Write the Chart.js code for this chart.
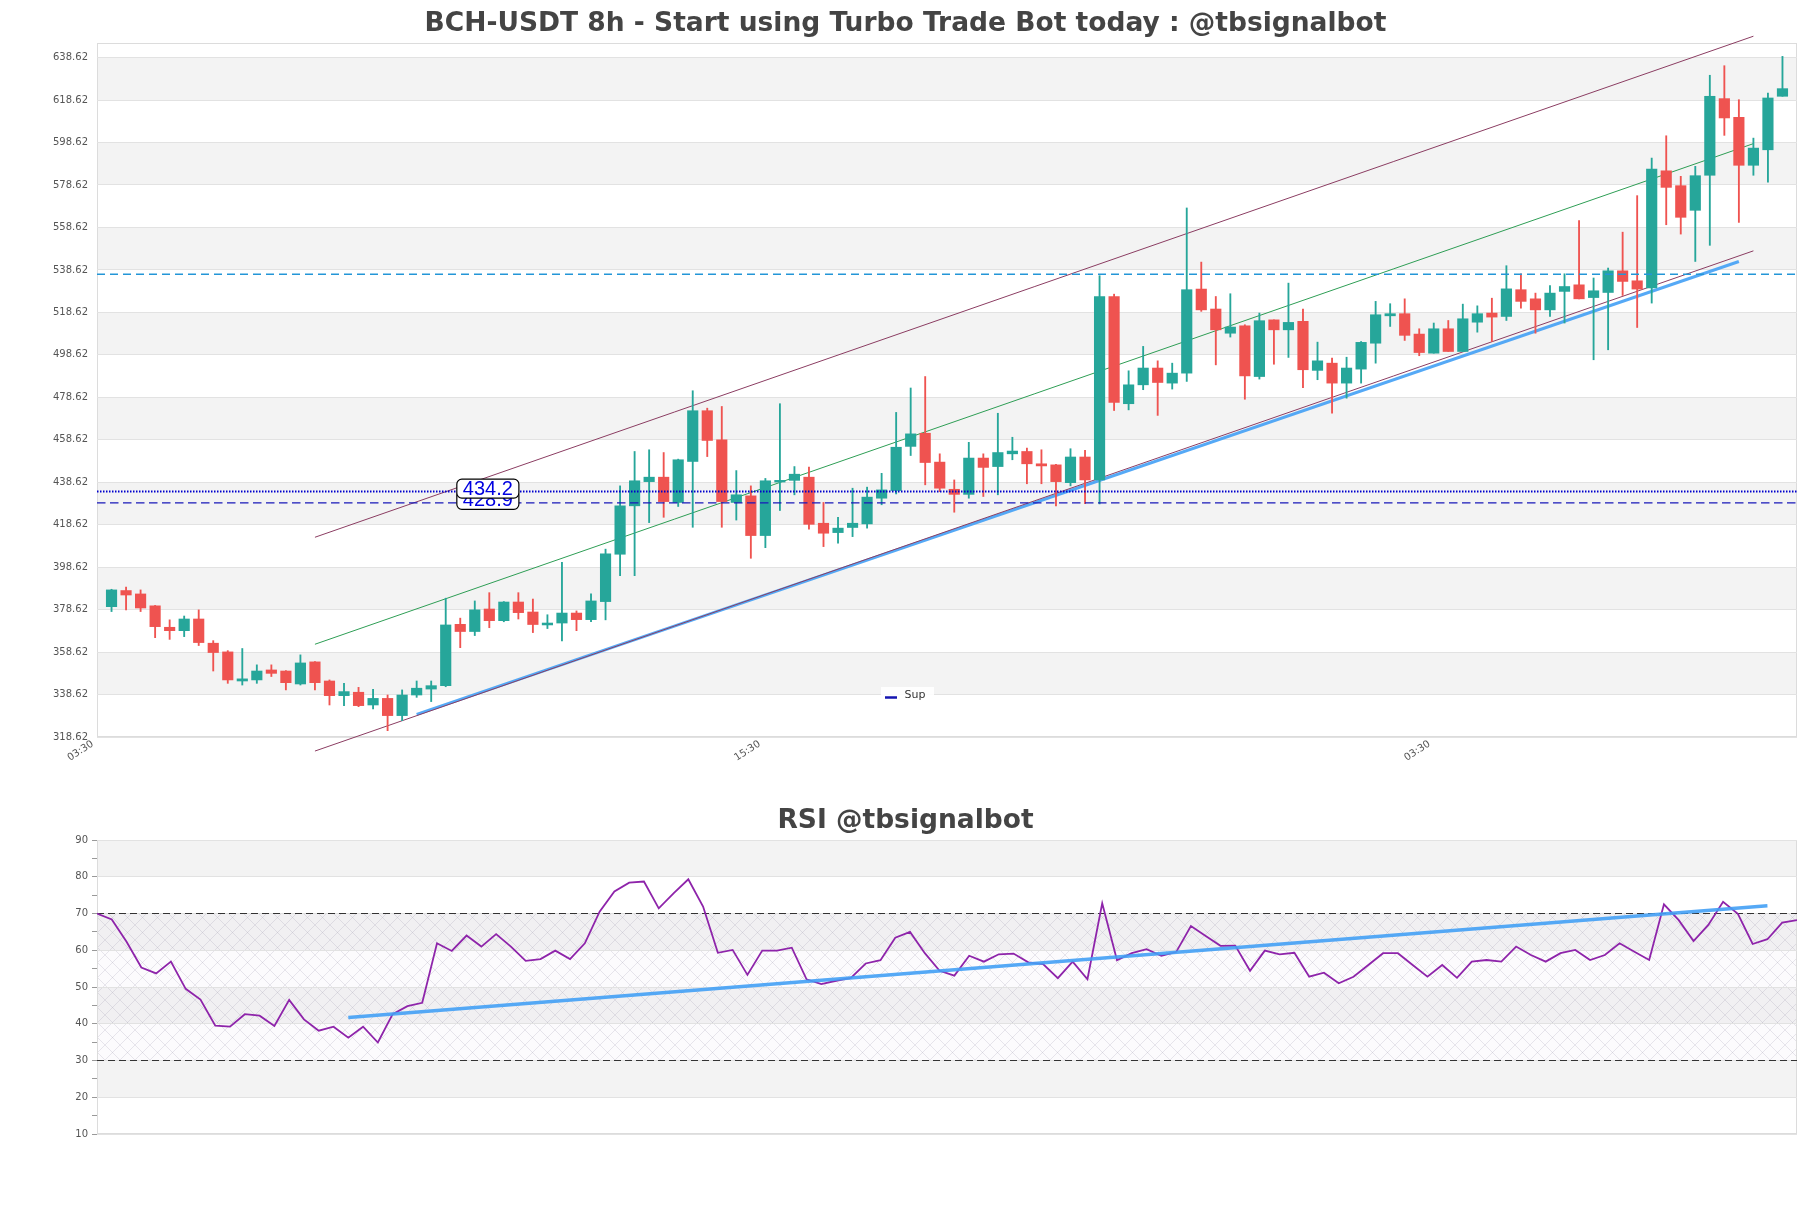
<!DOCTYPE html>
<html>
<head>
<meta charset="utf-8">
<title>BCH-USDT 8h</title>
<script src="https://cdn.jsdelivr.net/npm/chart.js@4.4.1/dist/chart.umd.min.js"></script>
<style>
  html, body { margin: 0; padding: 0; background: #fff; }
  #main-box { position: absolute; left: 0; top: 0; width: 1811px; height: 790px; }
  #rsi-box { position: absolute; left: 0; top: 790px; width: 1811px; height: 418px; }
</style>
</head>
<body>
<div id="main-box"><canvas id="main-chart"></canvas></div>
<div id="rsi-box"><canvas id="rsi-chart"></canvas></div>
<script>
'use strict';

// ******** CANDLE DATA (one entry per 8h candle) **************
let candleOpen = [
  380.0, 387.6, 386.0, 380.4, 370.3, 368.7, 374.2, 362.8, 358.7, 345.0,
  345.5, 350.2, 349.7, 343.6, 354.0, 345.0, 338.1, 339.7, 333.7, 336.8,
  328.7, 338.4, 341.2, 342.8, 371.7, 368.3, 378.9, 373.4, 382.2, 377.5,
  371.4, 372.3, 377.0, 373.9, 382.4, 404.7, 427.5, 438.9, 441.0, 429.1,
  448.4, 472.3, 458.6, 429.1, 432.2, 413.5, 438.7, 439.5, 441.0, 419.3,
  414.9, 417.3, 419.0, 431.1, 434.7, 455.5, 461.7, 448.1, 435.3, 432.9,
  450.0, 446.0, 452.0, 453.1, 447.3, 446.8, 438.4, 450.5, 439.7, 526.1,
  475.6, 484.5, 492.4, 485.3, 490.0, 529.6, 520.2, 508.8, 512.3, 488.4,
  515.1, 510.4, 514.4, 491.3, 494.7, 485.3, 491.9, 504.1, 517.0, 518.0,
  508.4, 499.4, 510.9, 500.2, 514.0, 518.3, 516.7, 529.3, 525.0, 519.8,
  528.5, 531.6, 525.6, 528.0, 538.2, 533.5, 530.1, 585.3, 578.3, 566.7,
  583.2, 619.3, 610.5, 587.9, 595.2, 620.4
];
let candleHigh = [
  388.2, 389.2, 387.9, 380.6, 373.8, 375.6, 378.5, 364.0, 359.3, 360.3,
  352.6, 352.6, 349.9, 357.3, 354.2, 345.5, 343.9, 342.0, 341.1, 338.4,
  340.8, 345.0, 345.0, 384.0, 374.6, 382.7, 386.6, 382.4, 386.6, 383.6,
  376.2, 400.9, 378.0, 386.0, 407.1, 436.9, 453.1, 453.9, 452.6, 449.5,
  481.7, 473.5, 474.3, 444.1, 436.9, 440.4, 475.6, 446.0, 445.7, 429.1,
  422.1, 435.8, 436.3, 442.8, 471.5, 483.0, 488.4, 452.0, 439.7, 457.4,
  452.0, 471.1, 459.8, 454.7, 453.9, 447.0, 454.4, 453.6, 535.9, 527.2,
  491.1, 502.6, 495.8, 494.7, 567.8, 542.3, 526.1, 527.4, 512.8, 518.3,
  515.1, 532.4, 520.2, 504.6, 497.1, 497.5, 504.9, 523.8, 522.7, 525.0,
  510.9, 513.6, 514.8, 522.5, 521.7, 525.3, 540.6, 536.8, 527.7, 531.3,
  536.8, 561.9, 534.8, 539.5, 556.4, 573.6, 591.3, 601.8, 582.7, 587.4,
  630.3, 634.8, 618.8, 600.7, 621.9, 639.2
];
let candleLow = [
  377.7, 378.5, 377.7, 365.4, 364.6, 365.9, 361.7, 349.7, 343.9, 343.1,
  343.9, 347.1, 340.8, 343.1, 340.8, 333.7, 333.4, 332.9, 331.8, 321.6,
  326.3, 337.3, 335.3, 342.3, 360.7, 366.4, 370.1, 372.9, 374.2, 367.8,
  369.7, 363.9, 368.7, 373.0, 373.8, 394.6, 394.6, 419.6, 422.1, 427.2,
  417.4, 450.7, 417.4, 420.8, 402.8, 407.8, 425.3, 432.7, 416.5, 408.3,
  409.9, 413.0, 417.0, 428.0, 433.1, 451.2, 437.4, 434.2, 424.5, 431.1,
  431.9, 432.7, 449.2, 437.9, 437.9, 427.5, 436.9, 428.5, 428.4, 472.4,
  472.7, 482.2, 470.1, 482.5, 486.1, 519.1, 493.9, 507.0, 477.7, 487.2,
  494.2, 497.4, 483.2, 486.9, 471.2, 478.2, 485.3, 494.7, 512.0, 505.4,
  498.2, 499.4, 500.2, 500.2, 509.3, 504.9, 514.8, 520.6, 508.8, 516.7,
  513.6, 525.0, 496.3, 501.0, 526.6, 511.5, 523.0, 559.9, 555.5, 542.6,
  550.2, 602.0, 561.0, 583.2, 579.9, 620.4
];
let candleClose = [
  387.9, 385.5, 379.4, 370.6, 368.7, 374.2, 363.1, 358.4, 345.5, 346.0,
  349.7, 348.6, 344.2, 353.5, 344.2, 338.1, 340.0, 333.4, 336.8, 328.7,
  338.4, 341.6, 342.8, 371.4, 368.3, 378.5, 373.4, 382.2, 377.2, 371.6,
  372.3, 377.0, 373.9, 382.7, 404.9, 427.5, 439.3, 441.0, 429.5, 449.2,
  472.3, 458.3, 429.5, 432.7, 413.5, 439.3, 439.5, 442.4, 418.8, 414.6,
  417.0, 419.3, 431.6, 435.0, 455.1, 461.4, 447.9, 435.8, 432.9, 450.0,
  445.6, 452.6, 453.3, 447.3, 446.3, 438.9, 450.5, 439.7, 526.1, 476.2,
  484.5, 492.4, 485.6, 490.0, 529.3, 519.8, 510.4, 511.7, 488.7, 514.7,
  510.4, 513.9, 491.6, 495.8, 485.3, 492.4, 504.5, 517.5, 518.0, 507.8,
  499.7, 510.9, 500.2, 515.6, 518.0, 516.4, 529.7, 523.8, 519.8, 527.7,
  530.8, 525.0, 528.8, 538.2, 533.2, 529.6, 586.1, 577.5, 563.4, 583.0,
  620.4, 610.2, 587.9, 596.0, 619.6, 624.0
];

// ******** AXIS DATA **************
let priceTicks = [
  318.62, 338.62, 358.62, 378.62, 398.62, 418.62, 438.62, 458.62, 478.62,
  498.62, 518.62, 538.62, 558.62, 578.62, 598.62, 618.62, 638.62
];
let priceMax = 645.5;
let timeLabels = ['03:30', '15:30', '03:30'];
let timeLabelAt = [-1.3, 44.6, 90.7];

// ******** DRAWN LINES (candle index, price) **************
let channelAt = [14, 113];
let channelLower = [312.0, 547.6];
let channelMiddle = [362.3, 598.1];
let channelUpper = [412.7, 648.7];

let supAt = [21, 112];
let supValues = [329.3, 542.6];

let resistLevel = 536.6;
let levelDotted = 434.2;
let levelDashed = 428.9;
let levelLabelAt = 25.9;

// ******** RSI DATA **************
let rsiValues = [
  70.0, 68.4, 62.3, 55.3, 53.7, 56.9, 49.5, 46.6, 39.5, 39.2,
  42.6, 42.2, 39.4, 46.5, 41.2, 38.1, 39.2, 36.2, 39.2, 34.9,
  42.6, 44.8, 45.7, 61.9, 59.8, 64.0, 61.0, 64.4, 61.0, 57.1,
  57.6, 59.9, 57.6, 61.9, 70.5, 76.0, 78.4, 78.7, 71.4, 75.5,
  79.3, 71.9, 59.3, 60.1, 53.3, 59.9, 59.9, 60.7, 52.1, 50.8,
  51.7, 52.5, 56.4, 57.3, 63.4, 65.0, 59.2, 54.4, 53.1, 58.5,
  56.9, 58.9, 59.1, 56.7, 56.2, 52.4, 56.9, 52.1, 72.8, 57.3,
  59.2, 60.3, 58.5, 59.5, 66.6, 63.9, 61.2, 61.25, 54.4, 59.9,
  58.9, 59.3, 52.8, 53.9, 51.0, 52.8, 56.0, 59.2, 59.2, 56.0,
  52.8, 56.0, 52.5, 56.9, 57.35, 56.9, 61.0, 58.7, 56.9, 59.2,
  60.1, 57.35, 58.7, 61.9, 59.6, 57.35, 72.5, 68.2, 62.5, 66.9,
  73.2, 69.9, 61.7, 63.0, 67.5, 68.2
];
let rsiTicks = [10, 20, 30, 40, 50, 60, 70, 80, 90];
let rsiTrendAt = [17, 113];
let rsiTrendValues = [41.7, 72.1];
let rsiUpper = 70;
let rsiLower = 30;

// ******** COLORS **************
let upColor = '#26a69a';
let downColor = '#ef5350';

Chart.defaults.font.family = "'DejaVu Sans', sans-serif";
Chart.defaults.font.size = 10;
Chart.defaults.color = '#555';

// *********** HELPER FUNCTIONS ***************

function segment(xs, ys) {
  return xs.map((x, i) => ({ x: x, y: ys[i] }));
}

function flatLine(value, from, to) {
  return [{ x: from, y: value }, { x: to, y: value }];
}

let candleColors = candleOpen.map((o, i) => (candleClose[i] >= o ? upColor : downColor));

function makeHatch(ctx) {
  let tile = document.createElement('canvas');
  tile.width = 15;
  tile.height = 15;
  let g = tile.getContext('2d');
  g.strokeStyle = 'rgba(160,155,175,0.24)';
  g.lineWidth = 1;
  g.beginPath();
  g.moveTo(0, 0);
  g.lineTo(15, 15);
  g.moveTo(15, 0);
  g.lineTo(0, 15);
  g.stroke();
  return ctx.createPattern(tile, 'repeat');
}

// *********** PLUGINS ***************

// striped background bands, optional hatched zone and the frame round the plot
const panelPlugin = {
  id: 'panel',
  beforeDraw(chart, args, opts) {
    const ctx = chart.ctx;
    const area = chart.chartArea;
    const y = chart.scales.y;
    const w = area.right - area.left;
    ctx.save();
    ctx.fillStyle = '#f3f3f3';
    for (let k = 1; k < opts.edges.length - 1; k += 2) {
      let top = y.getPixelForValue(opts.edges[k + 1]);
      let bottom = y.getPixelForValue(opts.edges[k]);
      ctx.fillRect(area.left, top, w, bottom - top);
    }
    if (opts.hatch) {
      let top = y.getPixelForValue(opts.hatch[1]);
      let bottom = y.getPixelForValue(opts.hatch[0]);
      ctx.fillStyle = 'rgba(230,215,240,0.1)';
      ctx.fillRect(area.left, top, w, bottom - top);
      ctx.fillStyle = makeHatch(ctx);
      ctx.fillRect(area.left, top, w, bottom - top);
    }
    ctx.strokeStyle = '#dcdcdc';
    ctx.lineWidth = 1;
    ctx.strokeRect(Math.round(area.left) + 0.5, Math.round(area.top) + 0.5,
      Math.round(w) - 1, Math.round(area.bottom - area.top) - 1);
    ctx.restore();
  }
};

// boxed price tags on the horizontal levels
const levelTagPlugin = {
  id: 'levelTags',
  afterDatasetsDraw(chart, args, opts) {
    if (!opts.values) return;
    const ctx = chart.ctx;
    const x = chart.scales.x.getPixelForValue(opts.at);
    ctx.save();
    ctx.font = '20px "Liberation Sans", Arial, sans-serif';
    ctx.textAlign = 'center';
    ctx.textBaseline = 'middle';
    opts.values.forEach((v) => {
      let text = v.toFixed(1);
      let w = ctx.measureText(text).width + 12;
      let h = 19;
      let cy = chart.scales.y.getPixelForValue(v) - 3;
      ctx.beginPath();
      ctx.roundRect(x - w / 2, cy - h / 2, w, h, 5);
      ctx.fillStyle = '#fff';
      ctx.fill();
      ctx.strokeStyle = '#000';
      ctx.lineWidth = 1.2;
      ctx.stroke();
      ctx.fillStyle = '#0000e0';
      ctx.fillText(text, x, cy + 1);
    });
    ctx.restore();
  }
};

// small legend sitting inside the bottom of the plot
const supLegendPlugin = {
  id: 'supLegend',
  afterDraw(chart, args, opts) {
    if (!opts.text) return;
    const ctx = chart.ctx;
    const left = chart.width / 2 - 24.5;
    const cy = chart.chartArea.bottom - 42.5;
    ctx.save();
    ctx.fillStyle = 'rgba(255,255,255,0.9)';
    ctx.fillRect(left, cy - 7.5, 53, 15);
    ctx.strokeStyle = opts.color;
    ctx.lineWidth = 2.5;
    ctx.beginPath();
    ctx.moveTo(left + 4, cy + 3);
    ctx.lineTo(left + 16, cy + 3);
    ctx.stroke();
    ctx.font = '11px "DejaVu Sans"';
    ctx.fillStyle = '#333';
    ctx.textBaseline = 'middle';
    ctx.fillText(opts.text, left + 23.5, cy + 1);
    ctx.restore();
  }
};

Chart.register(panelPlugin, levelTagPlugin, supLegendPlugin);

// *********** MAIN CANDLE CHART ***************
let xMin = -1;
let xMax = candleOpen.length;

let mainConfig = {
  type: 'bar',
  data: {
    datasets: [
      {
        type: 'line',
        label: 'Level ' + levelDotted,
        data: flatLine(levelDotted, xMin, xMax),
        borderColor: 'rgb(0,0,205)',
        borderWidth: 2,
        borderDash: [1.5, 1.5],
        pointRadius: 0,
        order: 0
      },
      {
        type: 'line',
        label: 'Level ' + levelDashed,
        data: flatLine(levelDashed, xMin, xMax),
        borderColor: 'rgb(25,25,185)',
        borderWidth: 1.3,
        borderDash: [8.5, 4.5],
        pointRadius: 0,
        order: 0
      },
      {
        type: 'line',
        label: 'Resistance',
        data: flatLine(resistLevel, xMin, xMax),
        borderColor: 'rgb(35,150,215)',
        borderWidth: 1.5,
        borderDash: [8, 5],
        pointRadius: 0,
        order: 0
      },
      {
        label: 'Body',
        data: candleOpen.map((o, i) => ({ x: i, y: [o, candleClose[i]] })),
        backgroundColor: candleColors,
        borderWidth: 0,
        barThickness: 10.5,
        grouped: false,
        order: 1
      },
      {
        label: 'Wick',
        data: candleLow.map((l, i) => ({ x: i, y: [l, candleHigh[i]] })),
        backgroundColor: candleColors,
        borderWidth: 0,
        barThickness: 1.2,
        grouped: false,
        order: 2
      },
      {
        type: 'line',
        label: 'Channel top',
        data: segment(channelAt, channelUpper),
        borderColor: '#8b3d62',
        borderWidth: 1,
        pointRadius: 0,
        clip: false,
        order: 3
      },
      {
        type: 'line',
        label: 'Channel mid',
        data: segment(channelAt, channelMiddle),
        borderColor: '#2e9e55',
        borderWidth: 1,
        pointRadius: 0,
        clip: false,
        order: 3
      },
      {
        type: 'line',
        label: 'Channel bottom',
        data: segment(channelAt, channelLower),
        borderColor: '#8b3d62',
        borderWidth: 1,
        pointRadius: 0,
        clip: false,
        order: 3
      },
      {
        type: 'line',
        label: 'Sup',
        data: segment(supAt, supValues),
        borderColor: 'rgba(66,160,245,0.9)',
        borderWidth: 3,
        pointRadius: 0,
        order: 4
      }
    ]
  },
  options: {
    responsive: true,
    maintainAspectRatio: false,
    animation: false,
    events: [],
    layout: { padding: { left: 14, right: 14, top: 0, bottom: 0 } },
    scales: {
      x: {
        type: 'linear',
        min: xMin,
        max: xMax,
        offset: false,
        grid: { display: false, drawTicks: false },
        border: { display: false },
        afterBuildTicks: (scale) => {
          scale.ticks = timeLabelAt.map((v) => ({ value: v }));
        },
        afterFit: (scale) => {
          scale.height = 53;
        },
        ticks: {
          autoSkip: false,
          minRotation: 33,
          maxRotation: 33,
          padding: 1,
          callback: (value, index) => timeLabels[index]
        }
      },
      y: {
        type: 'linear',
        min: priceTicks[0],
        max: priceMax,
        bounds: 'data',
        grid: { color: '#e2e2e2', drawTicks: false },
        border: { display: false },
        afterBuildTicks: (scale) => {
          scale.ticks = priceTicks.map((v) => ({ value: v }));
        },
        afterFit: (scale) => {
          scale.width = 83;
        },
        ticks: {
          padding: 9,
          callback: (value) => value.toFixed(2)
        }
      }
    },
    plugins: {
      legend: { display: false },
      tooltip: { enabled: false },
      title: {
        display: true,
        text: 'BCH-USDT 8h - Start using Turbo Trade Bot today : @tbsignalbot',
        color: '#444',
        font: { size: 26.5, weight: 'bold' },
        padding: { top: 8.3, bottom: 2.9 }
      },
      panel: { edges: priceTicks },
      levelTags: { values: [levelDashed, levelDotted], at: levelLabelAt },
      supLegend: { text: 'Sup', color: '#1515b0' }
    }
  }
};

new Chart(document.getElementById('main-chart'), mainConfig);

// *********** RSI CHART ***************
let rsiLast = rsiValues.length - 1;

let rsiConfig = {
  type: 'line',
  data: {
    datasets: [
      {
        label: 'RSI trend',
        data: segment(rsiTrendAt, rsiTrendValues),
        borderColor: 'rgba(66,160,245,0.9)',
        borderWidth: 3.5,
        pointRadius: 0,
        order: 0
      },
      {
        label: 'RSI',
        data: rsiValues.map((v, i) => ({ x: i, y: v })),
        borderColor: '#8e24aa',
        borderWidth: 1.8,
        pointRadius: 0,
        order: 1
      },
      {
        label: 'Overbought',
        data: flatLine(rsiUpper, 0, rsiLast),
        borderColor: '#333',
        borderWidth: 1.2,
        borderDash: [7, 4],
        pointRadius: 0,
        order: 2
      },
      {
        label: 'Oversold',
        data: flatLine(rsiLower, 0, rsiLast),
        borderColor: '#333',
        borderWidth: 1.2,
        borderDash: [7, 4],
        pointRadius: 0,
        order: 2
      }
    ]
  },
  options: {
    responsive: true,
    maintainAspectRatio: false,
    animation: false,
    events: [],
    layout: { padding: { left: 14, right: 14, top: 0, bottom: 74 } },
    scales: {
      x: {
        type: 'linear',
        min: 0,
        max: rsiLast,
        display: false
      },
      y: {
        type: 'linear',
        min: rsiTicks[0],
        max: rsiTicks[rsiTicks.length - 1],
        border: { display: false },
        grid: {
          color: (ctx) => (ctx.tick && ctx.tick.value % 10 === 0 ? '#e2e2e2' : 'transparent'),
          tickColor: '#999',
          tickLength: 5,
          drawTicks: true
        },
        afterFit: (scale) => {
          scale.width = 83;
        },
        ticks: {
          stepSize: 5,
          padding: 4,
          callback: (value) => (value % 10 === 0 ? value : '')
        }
      }
    },
    plugins: {
      legend: { display: false },
      tooltip: { enabled: false },
      title: {
        display: true,
        text: 'RSI @tbsignalbot',
        color: '#444',
        font: { size: 26.5, weight: 'bold' },
        padding: { top: 14.8, bottom: 3.4 }
      },
      panel: { edges: rsiTicks, hatch: [rsiLower, rsiUpper] }
    }
  }
};

new Chart(document.getElementById('rsi-chart'), rsiConfig);
</script>
</body>
</html>
